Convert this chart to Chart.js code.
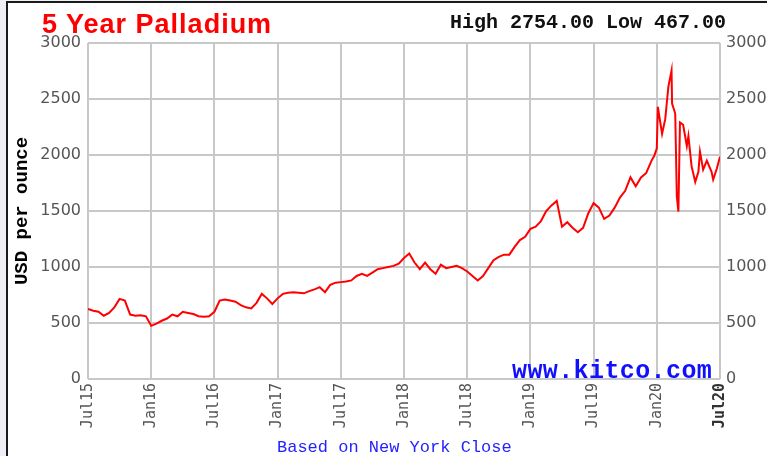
<!DOCTYPE html>
<html>
<head>
<meta charset="utf-8">
<script src="https://cdn.jsdelivr.net/npm/chart.js@4"></script>
<style>
  body { margin: 0; background: #eef0f6; width: 767px; height: 456px; overflow: hidden; position: relative; }
  #frame { position: absolute; left: 6px; top: 1px; width: 800px; height: 500px; background: #fff;
           border-left: 2px solid #1a1a1a; border-top: 2px solid #1a1a1a; }
  #chart { position: absolute; left: 0; top: 0; }
  .txt { position: absolute; white-space: nowrap; line-height: 1; }
  #title { left: 42px; top: 9px; font: bold 27px "Liberation Sans", Arial, sans-serif; color: #ff0000; letter-spacing: 1px; }
  #hilo { left: 450px; top: 11px; font: bold 20px "Liberation Mono", monospace; color: #111; }
  #source { left: 277px; top: 438px; font: 17px "Liberation Mono", monospace; color: #2222ff; }
  #site { left: 512px; top: 357px; font: bold 25px "Liberation Mono", monospace; color: #1010ff; letter-spacing: 0.4px; }
</style>
</head>
<body>
<div id="frame"></div>
<canvas id="chart" width="767" height="456"></canvas>
<div class="txt" id="title">5 Year Palladium</div>
<div class="txt" id="hilo">High 2754.00 Low 467.00</div>
<div class="txt" id="site">www.kitco.com</div>
<div class="txt" id="source">Based on New York Close</div>
<script>
// x tick labels, every 6 months starting Jul 2015
var tickLabels = ['Jul15', 'Jan16', 'Jul16', 'Jan17', 'Jul17', 'Jan18', 'Jul18', 'Jan19', 'Jul19', 'Jan20', 'Jul20'];

// closes read every half month, Jul 2015 .. Dec 2019
var halfMonthPrices = [
  625, 610, 600, 565, 590, 640, 715, 700, 575, 565,
  570, 560, 475, 495, 520, 540, 575, 560, 600, 590,
  580, 560, 555, 560, 600, 700, 710, 700, 690, 660,
  640, 630, 680, 760, 720, 670, 720, 760, 770, 775,
  770, 765, 785, 800, 820, 775, 840, 860, 865, 870,
  880, 920, 940, 920, 950, 980, 990, 1000, 1010, 1030,
  1080, 1120, 1040, 980, 1040, 980, 940, 1020, 990, 1000,
  1010, 990, 960, 920, 880, 920, 990, 1060, 1090, 1110,
  1110, 1180, 1240, 1270, 1340, 1360, 1410, 1500, 1550, 1590,
  1360, 1400, 1350, 1310, 1350, 1480, 1570, 1530, 1430, 1460,
  1530, 1620, 1680, 1800, 1720, 1800, 1840, 1950
];

// 2020: months since Jul 2015 and closes, read more densely around the spike
var months2020 = [53.75, 54.0, 54.1, 54.5, 54.8, 55.1, 55.4, 55.45, 55.75, 55.9, 56.05, 56.2, 56.5,
                  56.85, 57.0, 57.3, 57.65, 57.95, 58.1, 58.4, 58.75, 59.2, 59.35, 59.7, 60];
var prices2020 = [1990, 2060, 2430, 2190, 2320, 2610, 2754, 2460, 2370, 1630, 1494, 2290, 2270,
                  2080, 2170, 1900, 1760, 1850, 2030, 1870, 1950, 1850, 1780, 1880, 1985];

var points = [];
halfMonthPrices.forEach(function (p, i) { points.push({ x: i / 2, y: p }); });
months2020.forEach(function (m, i) { points.push({ x: m, y: prices2020[i] }); });

var gridColor = '#c8c8c8';
var tickFont = { family: '"DejaVu Sans", sans-serif', size: 16 };
var ctx = document.getElementById('chart').getContext('2d');
var chart = new Chart(ctx, {
  type: 'line',
  data: {
    datasets: [{
      data: points,
      borderColor: '#ff0000',
      borderWidth: 2,
      pointRadius: 0,
      tension: 0,
      fill: false
    }]
  },
  options: {
    responsive: false,
    animation: false,
    layout: { padding: { left: 0, right: 0, top: 43, bottom: 0 } },
    plugins: { legend: { display: false }, tooltip: { enabled: false } },
    scales: {
      x: {
        type: 'linear',
        min: 0,
        max: 60,
        afterFit: function (s) { s.height = 77; },
        afterBuildTicks: function (s) {
          s.ticks = tickLabels.map(function (l, i) { return { value: i * 6 }; });
        },
        grid: { color: gridColor, lineWidth: 2, drawTicks: false },
        border: { display: false },
        ticks: {
          autoSkip: false,
          maxRotation: 90,
          minRotation: 90,
          padding: 4,
          color: function (c) { return c.tick && c.tick.value === 60 ? '#333' : '#555'; },
          font: function (c) {
            return { family: '"DejaVu Sans Mono", monospace', size: 15,
                     weight: c.tick && c.tick.value === 60 ? 'bold' : 'normal' };
          },
          callback: function (v) { return tickLabels[v / 6]; }
        }
      },
      y: {
        position: 'left',
        min: 0,
        max: 3000,
        afterFit: function (s) { s.width = 88; },
        grid: { color: gridColor, lineWidth: 2, drawTicks: false },
        border: { display: false },
        ticks: {
          stepSize: 500,
          padding: 7,
          color: '#555',
          font: tickFont,
          callback: function (v) { return String(v); }
        },
        title: {
          display: true,
          text: 'USD per ounce',
          color: '#000',
          font: { family: '"Liberation Mono", monospace', size: 19, weight: 'bold' },
          padding: { top: 11, bottom: 0 }
        }
      },
      y2: {
        position: 'right',
        min: 0,
        max: 3000,
        afterFit: function (s) { s.width = 47; },
        grid: { display: false, drawTicks: false },
        border: { display: false },
        ticks: {
          stepSize: 500,
          padding: 6,
          color: '#555',
          font: tickFont,
          callback: function (v) { return String(v); }
        }
      }
    }
  }
});
</script>
</body>
</html>
